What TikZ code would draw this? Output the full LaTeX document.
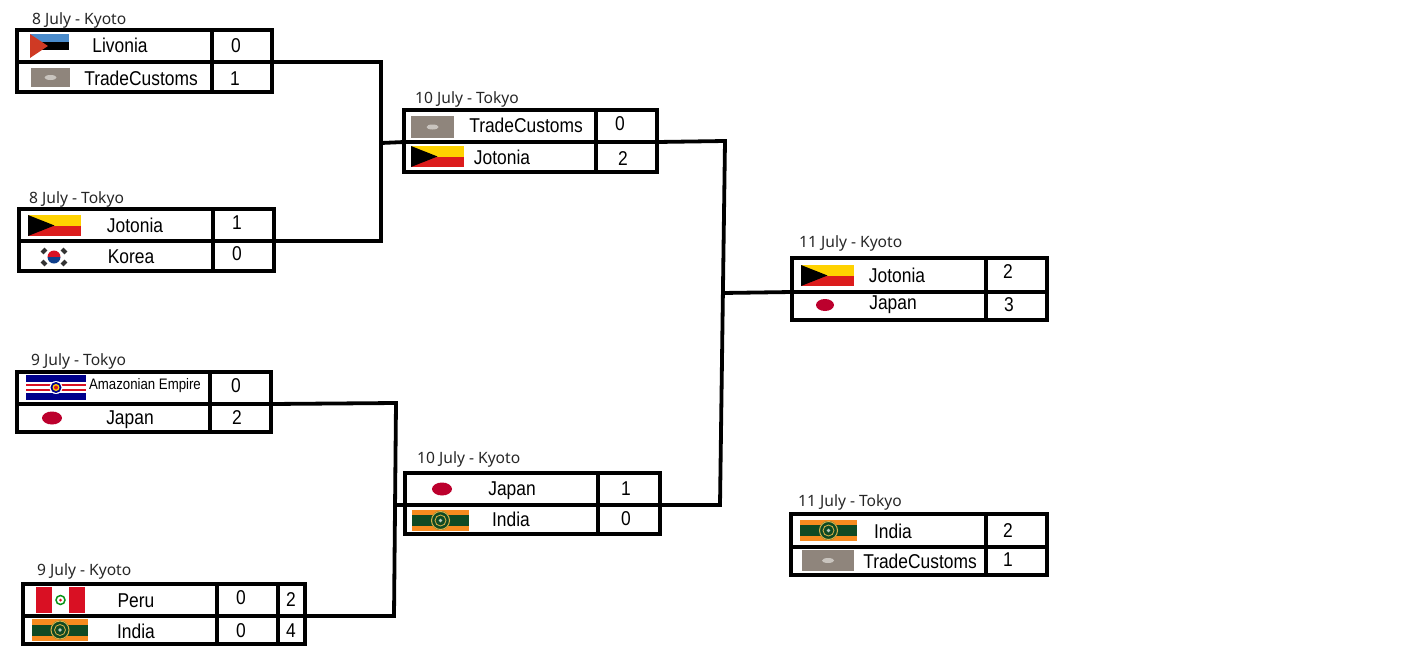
\documentclass[tikz,border=0pt]{standalone}
\usepackage{fontspec}
\setmainfont{Liberation Sans}
\newfontfamily\datefont{Noto Sans}
\newfontfamily\teamfont[FakeStretch=0.87]{Liberation Sans}
\usetikzlibrary{positioning,shapes.geometric}
\definecolor{flagblue}{HTML}{4A8BCB}
\definecolor{flagred}{HTML}{CF3A24}
\definecolor{custgrey}{HTML}{8F857C}
\definecolor{custlight}{HTML}{C9C4BE}
\definecolor{jotyellow}{HTML}{FFD200}
\definecolor{jotred}{HTML}{DC1C1C}
\definecolor{japred}{HTML}{BC002D}
\definecolor{korblue}{HTML}{0F3F8C}
\definecolor{amzblue}{HTML}{00008B}
\definecolor{perured}{HTML}{D91023}
\definecolor{indorange}{HTML}{F68B1F}
\definecolor{indgreen}{HTML}{0F4A24}
\definecolor{indgold}{HTML}{D9B24A}
\tikzset{
  cell/.style={rectangle, draw, line width=3.8pt, inner sep=0pt, outer sep=0pt},
  team/.style={font=\fontsize{20}{22}\teamfont, inner sep=0pt},
  smallteam/.style={font=\fontsize{15.2}{17}\teamfont, inner sep=0pt},
  score/.style={font=\fontsize{20}{22}\teamfont, inner sep=0pt},
  datelabel/.style={font=\fontsize{15.6}{18}\datefont, anchor=west, inner sep=0pt, text=black!85},
  conn/.style={line width=3.8pt, line join=miter},
  jpflag/.style={ellipse, fill=japred, draw=none, inner sep=0pt, minimum width=20pt, minimum height=13pt},
  pics/livonia/.style 2 args={code={
    \begin{scope}[x=#1pt, y=-#2pt]
    \fill[flagblue] (0,0) rectangle (1,.33);
    \fill[black] (0,.33) rectangle (1,.67);
    \fill[flagred] (0,0) -- (.46,.5) -- (0,1) -- cycle;
    \end{scope}
  }},
  pics/customs/.style 2 args={code={
    \begin{scope}[x=#1pt, y=-#2pt]
    \fill[custgrey] (0,0) rectangle (1,1);
    \fill[custlight] (.5,.5) ellipse[x radius=6pt, y radius=2.5pt];
    \end{scope}
  }},
  pics/jotonia/.style 2 args={code={
    \begin{scope}[x=#1pt, y=-#2pt]
    \fill[jotyellow] (0,0) rectangle (1,.5);
    \fill[jotred] (0,.5) rectangle (1,1);
    \fill[black] (0,0) -- (.5,.5) -- (0,1) -- cycle;
    \end{scope}
  }},
  korea/.pic={
    \fill[perured] (-6.5pt,0pt) arc[start angle=180, end angle=0, radius=6.5pt] -- cycle;
    \fill[korblue] (-6.5pt,0pt) arc[start angle=180, end angle=360, radius=6.5pt] -- cycle;
    \foreach \tx/\ty/\ta in {-10/-6/45, 10/-6/-45, -10/6/-45, 10/6/45}
      \fill[black!80, shift={(\tx pt,\ty pt)}, rotate=\ta] (-2pt,-2.8pt) rectangle (2pt,2.8pt);
  },
  pics/amazon/.style 2 args={code={
    \begin{scope}[x=#1pt, y=-#2pt]
    \fill[amzblue] (0,0) rectangle (1,1);
    \fill[white] (0,.28) rectangle (1,.72);
    \fill[perured] (0,.36) rectangle (1,.62);
    \fill[white] (0,.42) rectangle (1,.56);
    \fill[white] (.5,.5) circle[radius=6.5pt];
    \fill[amzblue] (.5,.5) circle[radius=5.5pt];
    \fill[jotyellow] (.5,.5) circle[radius=3.5pt];
    \fill[perured] (.5,.5) circle[radius=2pt];
    \end{scope}
  }},
  pics/peru/.style 2 args={code={
    \begin{scope}[x=#1pt, y=-#2pt]
    \fill[perured] (0,0) rectangle (1,1);
    \fill[white] (.33,0) rectangle (.67,1);
    \draw[indgreen!60!green, line width=1.5pt] (.5,.5) circle[radius=4.5pt];
    \fill[perured] (.5,.5) circle[radius=1.5pt];
    \end{scope}
  }},
  pics/india/.style 2 args={code={
    \begin{scope}[x=#1pt, y=-#2pt]
    \fill[indorange] (0,0) rectangle (1,1);
    \fill[indgreen] (0,.25) rectangle (1,.75);
    \fill[indgreen] (.5,.5) circle[radius=9.5pt];
    \draw[indgold, line width=1pt] (.5,.5) circle[radius=9pt];
    \draw[indgold, line width=.8pt] (.5,.5) circle[radius=5.5pt];
    \fill[white!70!indgreen] (.5,.5) circle[radius=1.8pt];
    \end{scope}
  }}
}
% frame of one match: name, x, y, team width, score width, upper and lower height
\newcommand{\matchcells}[7]{
  \node[cell, anchor=north west, minimum width=#4pt, minimum height=#6pt] (#1a) at (#2,#3) {};
  \node[cell, minimum width=#5pt, minimum height=#6pt, right=0pt of #1a] (#1as) {};
  \node[cell, minimum width=#4pt, minimum height=#7pt, below=0pt of #1a] (#1b) {};
  \node[cell, minimum width=#5pt, minimum height=#7pt, right=0pt of #1b] (#1bs) {};
}
\begin{document}
\begin{tikzpicture}[x=1pt, y=-1pt]
  \useasboundingbox (0,0) rectangle (1416,667);

  % 8 July - Kyoto
  \node[datelabel] (lvdate) at (32,20) {8 July - Kyoto};
  \matchcells{lv}{17}{30}{195}{60}{32}{30}
  \pic at (30,34) {livonia={39}{24}};
  \pic at (31,68) {customs={39}{19}};
  \node[team] (lvname) at (120,45) {Livonia};
  \node[team] (tcname) at (141,78) {TradeCustoms};
  \node[score] (lvscore) at (236,46) {0};
  \node[score] (tcscore) at (235,79) {1};

  % 8 July - Tokyo
  \node[datelabel] (jkdate) at (29,199) {8 July - Tokyo};
  \matchcells{jk}{19}{209}{194}{61}{32}{30}
  \pic at (28,215) {jotonia={53}{21}};
  \pic at (54,257) {korea};
  \node[team] (joname) at (135,225) {Jotonia};
  \node[team] (krname) at (131,257) {Korea};
  \node[score] (joscore) at (237,223) {1};
  \node[score] (krscore) at (237,254) {0};

  % 9 July - Tokyo
  \node[datelabel] (ajdate) at (31,361) {9 July - Tokyo};
  \matchcells{aj}{17}{372}{193}{61}{32}{28}
  \pic at (26,375) {amazon={60}{25}};
  \node[jpflag] (ajflag) at (52,418) {};
  \node[smallteam] (amname) at (145,386) {Amazonian Empire};
  \node[team] (jpname) at (130,420) {Japan};
  \node[score] (amscore) at (236,386) {0};
  \node[score] (jpscore) at (237,418) {2};

  % 9 July - Kyoto
  \node[datelabel] (pidate) at (37,571) {9 July - Kyoto};
  \matchcells{pi}{23}{584}{194}{61}{32}{28}
  \node[cell, minimum width=27pt, minimum height=32pt, right=0pt of pias] (pipa) {};
  \node[cell, minimum width=27pt, minimum height=28pt, right=0pt of pibs] (pipb) {};
  \pic at (36,587) {peru={49}{26}};
  \pic at (32,619) {india={56}{22}};
  \node[team] (pename) at (136,601) {Peru};
  \node[team] (inname) at (136,631) {India};
  \node[score] (pescore) at (241,598) {0};
  \node[score] (inscore) at (241,631) {0};
  \node[score] (pepen) at (291,600) {2};
  \node[score] (inpen) at (291,631) {4};

  % 10 July - Tokyo
  \node[datelabel] (tjdate) at (415,99) {10 July - Tokyo};
  \matchcells{tj}{404}{110}{192}{61}{32}{30}
  \pic at (411,116) {customs={43}{22}};
  \pic at (411,146) {jotonia={53}{21}};
  \node[team] (tjtname) at (526,125) {TradeCustoms};
  \node[team] (tjjname) at (502,157) {Jotonia};
  \node[score] (tjtscore) at (620,124) {0};
  \node[score] (tjjscore) at (623,159) {2};

  % 10 July - Kyoto
  \node[datelabel] (jidate) at (417,459) {10 July - Kyoto};
  \matchcells{ji}{405}{473}{193}{62}{32}{29}
  \node[jpflag] (jiflag) at (442,489) {};
  \pic at (412,510) {india={57}{21}};
  \node[team] (jijname) at (512,491) {Japan};
  \node[team] (jiiname) at (511,519) {India};
  \node[score] (jijscore) at (626,489) {1};
  \node[score] (jiiscore) at (626,519) {0};

  % 11 July - Kyoto
  \node[datelabel] (fadate) at (799,243) {11 July - Kyoto};
  \matchcells{fa}{792}{258}{194}{61}{34}{28}
  \pic at (801,265) {jotonia={53}{21}};
  \node[jpflag, minimum width=18pt, minimum height=12pt] (faflag) at (825,305) {};
  \node[team] (fajname) at (897,275) {Jotonia};
  \node[team] (fapname) at (893,305) {Japan};
  \node[score] (fajscore) at (1008,272) {2};
  \node[score] (fapscore) at (1009,305) {3};

  % 11 July - Tokyo
  \node[datelabel] (tpdate) at (798,502) {11 July - Tokyo};
  \matchcells{tp}{791}{514}{195}{61}{33}{28}
  \pic at (800,520) {india={57}{21}};
  \pic at (802,550) {customs={52}{21}};
  \node[team] (tpiname) at (893,531) {India};
  \node[team] (tptname) at (920,561) {TradeCustoms};
  \node[score] (tpiscore) at (1008,531) {2};
  \node[score] (tptscore) at (1008,560) {1};

  % brackets
  \coordinate (upjoin) at (381,143);
  \coordinate (lowtop) at (396,403);
  \coordinate (lowbot) at (394,616);
  \coordinate (lowjoin) at (395,505);
  \coordinate (semitop) at (725,141);
  \coordinate (semibot) at (720,505);
  \coordinate (semijoin) at (722,293);
  \draw[conn] (lvas.south east) -| (upjoin) |- (jkas.south east);
  \draw[conn] (upjoin) -- (tja.south west);
  \draw[conn] (ajas.south east) -- (lowtop) -- (lowbot) -- (pipa.south east);
  \draw[conn] (lowjoin) -- (jia.south west);
  \draw[conn] (tjas.south east) -- (semitop) -- (semibot) -- (jias.south east);
  \draw[conn] (semijoin) -- (faa.south west);
\end{tikzpicture}
\end{document}
